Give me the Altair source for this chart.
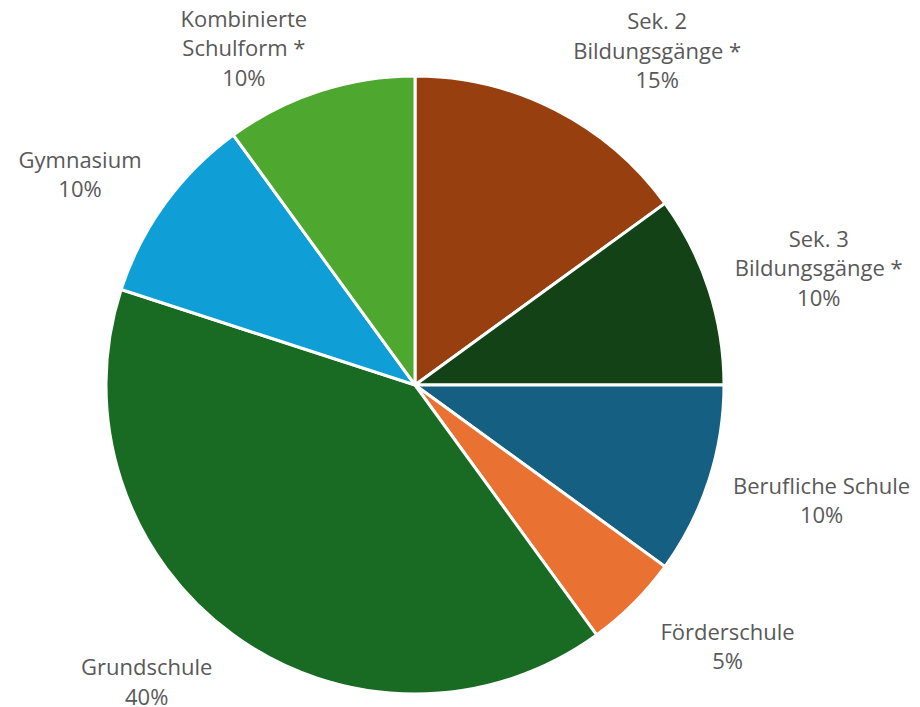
import math
import altair as alt
import pandas as pd

categories = ["Sek. 2 Bildungsgänge *", "Sek. 3 Bildungsgänge *", "Berufliche Schule",
              "Förderschule", "Grundschule", "Gymnasium", "Kombinierte Schulform *"]
label_lines = [["Sek. 2", "Bildungsgänge *"], ["Sek. 3", "Bildungsgänge *"], ["Berufliche Schule"],
               ["Förderschule"], ["Grundschule"], ["Gymnasium"], ["Kombinierte", "Schulform *"]]
values = [15, 10, 10, 5, 40, 10, 10]
colors = ["#983F10", "#124216", "#156082", "#E97132", "#196B24", "#0F9ED5", "#4EA72E"]

# label placement (best-fit style): angle nudge (deg) from slice middle and distance from centre (px)
label_angle_nudge = [9, 2, -2, -5, 6, -4, -9]
label_distance = [412, 420, 423, 408, 401, 395, 377]
LINE_H = 29.5

W, H = 800, 600
R = 309
total = sum(values)
cum = 0
lx, ly = [], []
for v, nudge, dist, lines in zip(values, label_angle_nudge, label_distance, label_lines):
    mid = (cum + v / 2) / total * 360 + nudge
    cum += v
    a = math.radians(mid)
    n = len(lines) + 1
    lx.append(W / 2 + dist * math.sin(a))
    ly.append(H / 2 - dist * math.cos(a) - (n - 1) * LINE_H / 2)

df = pd.DataFrame({
    "category": categories,
    "value": values,
    "idx": list(range(len(categories))),
    "label": ["\n".join(l + [f"{v}%"]) for l, v in zip(label_lines, values)],
    "lx": lx,
    "ly": ly,
})

pie = alt.Chart(df).mark_arc(radius=R, stroke="white", strokeWidth=3).encode(
    theta=alt.Theta("value:Q", stack=True),
    order=alt.Order("idx:Q"),
    color=alt.Color("category:N", scale=alt.Scale(domain=categories, range=colors), legend=None, sort=None),
)

labels = alt.Chart(df).mark_text(fontSize=22, font="Open Sans", color="#595959",
                                 lineBreak="\n", lineHeight=LINE_H, align="center", baseline="middle").encode(
    x=alt.X("lx:Q", scale=None),
    y=alt.Y("ly:Q", scale=None),
    text="label:N",
)

chart = (pie + labels).properties(
    width=W, height=H,
    autosize="none",
    padding={"left": 7, "top": 77, "right": 97, "bottom": 22},
).configure_view(stroke=None)

chart.save("out.html", embed_options={"renderer": "svg", "actions": False})
